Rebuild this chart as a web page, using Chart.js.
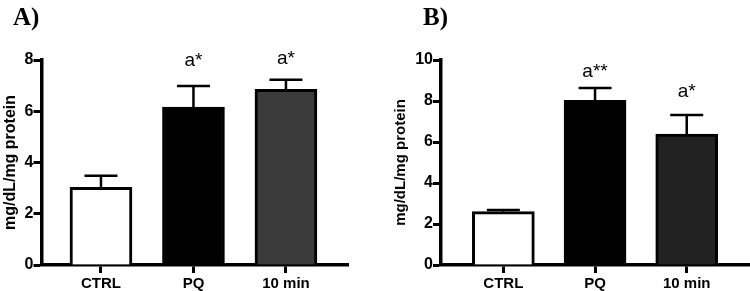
<!DOCTYPE html>
<html><head><meta charset="utf-8">
<script src="https://cdn.jsdelivr.net/npm/chart.js@4.4.1/dist/chart.umd.min.js"></script>
<style>
body{margin:0;background:#fff;width:750px;height:291px;overflow:hidden;position:relative}
canvas{position:absolute;top:0}
</style></head>
<body>
<canvas id="cA" width="375" height="291" style="left:0"></canvas>
<canvas id="cB" width="375" height="291" style="left:375px"></canvas>
<script>
const categories = ['CTRL', 'PQ', '10 min'];

const valuesA = [3.03, 6.16, 6.86];
const errorsA = [0.45, 0.83, 0.37];
const signifA = ['', 'a*', 'a*'];
const signifLevelA = [null, 7.97, 8.05];
const yTicksA = [0, 2, 4, 6, 8];

const valuesB = [2.6, 8.03, 6.39];
const errorsB = [0.08, 0.6, 0.93];
const signifB = ['', 'a**', 'a*'];
const signifLevelB = [null, 9.43, 8.45];
const yTicksB = [0, 2, 4, 6, 8, 10];

const SANS = '"Liberation Sans", Arial, sans-serif';
const SERIF = '"Liberation Serif", "Times New Roman", serif';

function makeChart(id, cfg) {
  const errPlugin = {
    id: 'errbars',
    afterDatasetsDraw(chart) {
      const ctx = chart.ctx, xs = chart.scales.x, ys = chart.scales.y;
      ctx.save();
      ctx.strokeStyle = '#000';
      ctx.lineWidth = 2.5;
      cfg.values.forEach((v, i) => {
        const x = xs.getPixelForValue(i);
        const y0 = ys.getPixelForValue(v);
        const y1 = ys.getPixelForValue(v + cfg.errors[i]);
        ctx.beginPath();
        ctx.moveTo(x, y0); ctx.lineTo(x, y1);
        ctx.moveTo(x - 16.5, y1); ctx.lineTo(x + 16.5, y1);
        ctx.stroke();
      });
      ctx.fillStyle = '#000';
      ctx.font = '19px ' + SANS;
      ctx.textAlign = 'center';
      ctx.textBaseline = 'middle';
      cfg.signif.forEach((s, i) => {
        if (!s) return;
        ctx.fillText(s, xs.getPixelForValue(i), ys.getPixelForValue(cfg.signifLevel[i]));
      });
      ctx.font = 'bold 25px ' + SERIF;
      ctx.textAlign = 'left';
      ctx.textBaseline = 'alphabetic';
      ctx.fillText(cfg.panel, cfg.panelX, 25);
      ctx.restore();
    }
  };
  return new Chart(document.getElementById(id), {
    type: 'bar',
    data: {
      datasets: [{
        data: categories.map((c, i) => ({ x: i, y: cfg.values[i] })),
        backgroundColor: cfg.colors,
        borderColor: '#000',
        borderWidth: 3,
        barThickness: 62
      }]
    },
    options: {
      responsive: false,
      devicePixelRatio: 1,
      animation: false,
      layout: { padding: { left: 0, top: 60, right: cfg.padRight, bottom: 0 } },
      plugins: { legend: { display: false }, tooltip: { enabled: false } },
      scales: {
        x: {
          type: 'linear', min: cfg.xMin, max: cfg.xMax, offset: false,
          afterBuildTicks: s => { s.ticks = categories.map((c, i) => ({ value: i })); },
          ticks: {
            callback: v => categories[v], color: '#000', autoSkip: false, maxRotation: 0,
            font: { family: SANS, size: 15, weight: 'bold' }, padding: 2
          },
          border: { display: true, color: '#000', width: 3.5 },
          grid: { offset: false, display: true, drawOnChartArea: false, drawTicks: true, tickLength: 8, tickWidth: 3, tickColor: '#000', lineWidth: 3, color: '#000' },
          afterFit: s => { s.height = 26; }
        },
        y: {
          min: 0, max: cfg.yMax,
          afterBuildTicks: s => { s.ticks = cfg.yTicks.map(v => ({ value: v })); },
          ticks: { color: '#000', font: { family: SANS, size: 16, weight: 'bold' }, padding: 0 },
          border: { display: true, color: '#000', width: 3.5 },
          grid: { offset: false, drawOnChartArea: false, drawTicks: true, tickLength: 8, tickWidth: 3, tickColor: '#000' },
          title: {
            display: true, text: 'mg/dL/mg protein', color: '#000',
            font: { family: SANS, size: cfg.titleSize, weight: 'bold' },
            padding: { top: cfg.titlePad, bottom: 0 }
          },
          afterFit: s => { s.width = cfg.yWidth; }
        }
      }
    },
    plugins: [errPlugin]
  });
}

makeChart('cA', {
  values: valuesA, errors: errorsA, signif: signifA, signifLevel: signifLevelA,
  yTicks: yTicksA, yMax: 8, colors: ['#ffffff', '#000000', '#3b3b3b'],
  xMin: -0.643, xMax: 2.66, padRight: 28, yWidth: 41.5,
  titleSize: 16, titlePad: 1, panel: 'A)', panelX: 13
});
makeChart('cB', {
  values: valuesB, errors: errorsB, signif: signifB, signifLevel: signifLevelB,
  yTicks: yTicksB, yMax: 10, colors: ['#ffffff', '#000000', '#222222'],
  xMin: -0.68, xMax: 2.69, padRight: 0, yWidth: 66,
  titleSize: 15, titlePad: 17, panel: 'B)', panelX: 48
});
</script>
</body></html>
